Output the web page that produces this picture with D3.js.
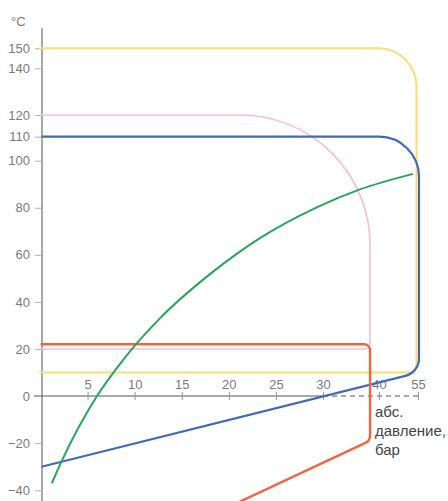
<!DOCTYPE html>
<head>
    <meta charset="utf-8">
    <title>D3: temperature vs pressure</title>
    <script src="https://cdn.jsdelivr.net/npm/d3@7/dist/d3.min.js"></script>
    <style>
        body { margin: 0; background: #fff; }
        text { font-family: "Liberation Sans", Arial, sans-serif; }
    </style>
</head>

<body>
    <div id="container"></div>
    <script>

        // tick values
        var yTicks = [-40, -20, 0, 20, 40, 60, 80, 100, 110, 120, 140, 150];
        var xTicks = [5, 10, 15, 20, 25, 30, 40, 55];

        // outline series (corner points, pressure in bar / temperature in °C)
        var yellowX = [0, 55, 55, 0];
        var yellowY = [150, 150, 10, 10];
        var blueX = [0, 55, 55, 0];
        var blueY = [110, 110, 10, -30];
        var pinkX = [0, 38.4, 38.4, 0];
        var pinkY = [120, 120, 20, 20];
        var redX = [0, 38.4, 38.4, 18.4];
        var redY = [22, 22, -19, -50];

        // saturation curve
        var greenX = [1.2, 2.25, 6.0, 8.8, 12.7, 18.0, 23.3, 29.4, 36.6, 53.1];
        var greenY = [-37, -27.6, 0, 15.5, 33.1, 51.8, 67.1, 80.3, 87.8, 94.4];

        const width = 448;
        const height = 501;

        // both axes of the original are not evenly spaced
        const x = d3.scaleLinear()
            .domain([0, 30, 40, 55])
            .range([40.5, 323, 379, 418]);

        const y = d3.scaleLinear()
            .domain([-40, 0, 100, 110, 120, 140, 150])
            .range([490.3, 396, 160.7, 136.7, 115, 68.3, 48.3]);

        var svg = d3.select("#container")
            .append("svg")
            .attr("width", width)
            .attr("height", height);

        // y axis
        svg.append("line")
            .attr("x1", 42).attr("x2", 42)
            .attr("y1", y(160)).attr("y2", y(-48))
            .attr("stroke", "#a8a8a8")
            .attr("stroke-width", 2);

        var yAxis = svg.append("g")
            .attr("transform", "translate(41,0)")
            .call(d3.axisLeft(y).tickValues(yTicks).tickSize(6).tickPadding(5).tickFormat(d3.format("d")));
        yAxis.select(".domain").remove();
        yAxis.selectAll(".tick line").attr("stroke", "#b0b0b0");
        yAxis.selectAll(".tick").filter(d => d === 0).select("line").remove();
        yAxis.selectAll("text")
            .attr("fill", "#7a7a7a")
            .style("font-size", "13px")
            .style("font-family", "'Liberation Sans', Arial, sans-serif");

        svg.append("text")
            .attr("x", 11)
            .attr("y", 26)
            .attr("fill", "#7a7a7a")
            .style("font-size", "13px")
            .text("°C");

        // x axis: solid part then dashed part
        svg.append("line")
            .attr("x1", 34).attr("x2", x(30))
            .attr("y1", y(0)).attr("y2", y(0))
            .attr("stroke", "#555")
            .attr("stroke-width", 1.2);
        svg.append("line")
            .attr("x1", x(30)).attr("x2", x(55))
            .attr("y1", y(0)).attr("y2", y(0))
            .attr("stroke", "#555")
            .attr("stroke-width", 1.2)
            .attr("stroke-dasharray", "5,4");

        var xAxis = svg.append("g")
            .attr("transform", "translate(0," + y(0) + ")")
            .call(d3.axisBottom(x).tickValues(xTicks).tickSize(4));
        xAxis.select(".domain").remove();
        xAxis.selectAll(".tick line")
            .attr("y1", -4)
            .attr("stroke", "#999");
        xAxis.selectAll("text")
            .attr("y", -7)
            .attr("dy", 0)
            .attr("fill", "#7a7a7a")
            .style("font-size", "13px")
            .style("font-family", "'Liberation Sans', Arial, sans-serif");

        // outlines with rounded corners
        function roundedPath(xs, ys, radii) {
            const p = d3.path();
            p.moveTo(x(xs[0]), y(ys[0]));
            for (var i = 1; i < xs.length - 1; i++) {
                p.arcTo(x(xs[i]), y(ys[i]), x(xs[i + 1]), y(ys[i + 1]), radii[i]);
            }
            p.lineTo(x(xs[xs.length - 1]), y(ys[ys.length - 1]));
            return p.toString();
        }

        svg.append("path")
            .attr("d", roundedPath(yellowX, yellowY, [0, 38, 8, 0]))
            .attr("fill", "none")
            .attr("stroke", "#fddc73")
            .attr("stroke-width", 2)
            .attr("transform", "translate(-1.5,0)");

        svg.append("path")
            .attr("d", roundedPath(pinkX, pinkY, [0, 130, 5, 0]))
            .attr("fill", "none")
            .attr("stroke", "#f6bdd4")
            .attr("stroke-width", 1.6);

        svg.append("path")
            .attr("d", roundedPath(blueX, blueY, [0, 40, 18, 0]))
            .attr("fill", "none")
            .attr("stroke", "#4069be")
            .attr("stroke-width", 2.2)
            .attr("transform", "translate(1,0)");

        svg.append("path")
            .attr("d", roundedPath(redX, redY, [0, 6, 8, 0]))
            .attr("fill", "none")
            .attr("stroke", "#f0643f")
            .attr("stroke-width", 2.4);

        // green curve
        var greenLine = d3.line()
            .x(function (d, i) { return x(greenX[i]); })
            .y(function (d, i) { return y(greenY[i]); })
            .curve(d3.curveMonotoneX);

        svg.append("path")
            .attr("d", greenLine(greenX))
            .attr("fill", "none")
            .attr("stroke", "#26a658")
            .attr("stroke-width", 2);

        // axis title
        var label = svg.append("text")
            .attr("x", 375)
            .attr("y", 417)
            .attr("fill", "#444")
            .style("font-size", "15px");
        ["абс.", "давление,", "бар"].forEach(function (t, i) {
            label.append("tspan")
                .attr("x", 375)
                .attr("dy", i === 0 ? 0 : 19)
                .text(t);
        });

    </script>
</body>
